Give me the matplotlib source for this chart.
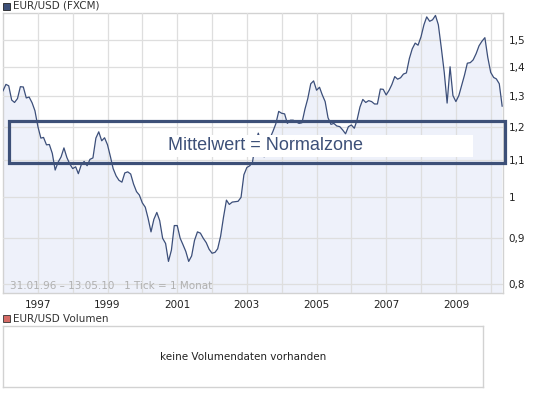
import matplotlib
matplotlib.use("Agg")
import matplotlib.pyplot as plt
import matplotlib.patches as mpatches
import matplotlib.dates as mdates
import pandas as pd
import numpy as np

# ---- data: EUR/USD monthly, Jan 1996 .. May 2010 ----
start_month = "1996-01-01"
eurusd = [
    1.316, 1.338, 1.333, 1.285, 1.277, 1.290, 1.330, 1.329, 1.292, 1.295, 1.276, 1.250,  # 1996
    1.200, 1.165, 1.167, 1.145, 1.146, 1.120, 1.073, 1.095, 1.110, 1.136, 1.108, 1.090,  # 1997
    1.077, 1.082, 1.063, 1.088, 1.097, 1.085, 1.103, 1.107, 1.165, 1.184, 1.157, 1.166,  # 1998
    1.145, 1.110, 1.077, 1.057, 1.045, 1.040, 1.065, 1.068, 1.062, 1.035, 1.015, 1.006,  # 1999
    0.986, 0.975, 0.948, 0.915, 0.945, 0.962, 0.942, 0.900, 0.888, 0.848, 0.873, 0.930,  # 2000
    0.930, 0.900, 0.886, 0.870, 0.848, 0.860, 0.895, 0.915, 0.912, 0.900, 0.890, 0.875,  # 2001
    0.866, 0.868, 0.876, 0.905, 0.950, 0.993, 0.982, 0.988, 0.989, 0.990, 1.000, 1.060,  # 2002
    1.080, 1.085, 1.095, 1.150, 1.180, 1.150, 1.110, 1.120, 1.165, 1.185, 1.209, 1.248,  # 2003
    1.242, 1.240, 1.210, 1.220, 1.220, 1.215, 1.210, 1.212, 1.255, 1.290, 1.340, 1.350,  # 2004
    1.318, 1.328, 1.303, 1.280, 1.228, 1.207, 1.210, 1.202, 1.200, 1.190, 1.178, 1.200,  # 2005
    1.205, 1.195, 1.220, 1.262, 1.287, 1.277, 1.283, 1.280, 1.272, 1.272, 1.322, 1.321,  # 2006
    1.302, 1.318, 1.337, 1.365, 1.356, 1.361, 1.374, 1.378, 1.430, 1.466, 1.488, 1.480,  # 2007
    1.512, 1.560, 1.592, 1.574, 1.580, 1.598, 1.560, 1.470, 1.380, 1.275, 1.400, 1.300,  # 2008
    1.280, 1.300, 1.333, 1.370, 1.413, 1.415, 1.425, 1.448, 1.478, 1.495, 1.509, 1.435,  # 2009
    1.380, 1.362, 1.357, 1.340, 1.265,                                                    # 2010
]
dates = pd.date_range(start_month, periods=len(eurusd), freq="MS")

y_ticks = [0.8, 0.9, 1.0, 1.1, 1.2, 1.3, 1.4, 1.5]
y_tick_labels = ["0,8", "0,9", "1", "1,1", "1,2", "1,3", "1,4", "1,5"]
grid_years = list(range(1997, 2011))
label_years = [1997, 1999, 2001, 2003, 2005, 2007, 2009]

title_main = "EUR/USD (FXCM)"
title_vol = "EUR/USD Volumen"
range_note = "31.01.96 \u2013 13.05.10   1 Tick = 1 Monat"
no_volume = "keine Volumendaten vorhanden"
overlay_text = "Mittelwert = Normalzone"

# ---- styling ----
W, H = 545, 395
LINE = "#3c4f7a"
FILL = "#eef1fa"
GRID = "#dedede"
SPINE = "#d2d2d2"
BOX = "#3d5078"

plt.rcParams["font.family"] = ["DejaVu Sans"]

fig = plt.figure(figsize=(W / 100, H / 100), dpi=100)

def fx(px):
    return px / W

def fy(py):
    return 1 - py / H

# main axes
ax = fig.add_axes([fx(3), fy(293), fx(500), 280 / H])
ax.set_yscale("log")
ax.fill_between(dates, eurusd, 0.5, color=FILL, lw=0, zorder=1)
ax.plot(dates, eurusd, color=LINE, lw=0.9, zorder=3)
ax.set_ylim(0.7817, 1.608)
ax.set_xlim(pd.Timestamp("1996-01-01"), pd.Timestamp("2010-05-10"))

ax.yaxis.tick_right()
ax.set_yticks(y_ticks)
ax.set_yticklabels(y_tick_labels)
ax.yaxis.set_minor_locator(matplotlib.ticker.NullLocator())
ax.yaxis.set_minor_formatter(matplotlib.ticker.NullFormatter())

xt = [pd.Timestamp(f"{y}-01-01") for y in grid_years]
ax.set_xticks(xt)
ax.set_xticklabels([str(y) if y in label_years else "" for y in grid_years])
ax.tick_params(axis="both", length=0, labelsize=7.5, colors="#222222")
ax.tick_params(axis="x", pad=5)
ax.tick_params(axis="y", pad=4)
ax.grid(True, color=GRID, lw=0.9, zorder=2)
ax.set_axisbelow(False)
for s in ax.spines.values():
    s.set_color(SPINE)
    s.set_linewidth(1.0)
ax.text(7 / 500, 7 / 280, range_note, transform=ax.transAxes,
        fontsize=7.5, color="#b0b0b0", va="center", ha="left", zorder=4)

# volume axes
axv = fig.add_axes([fx(3), fy(387), fx(480), 61 / H])
axv.set_xticks([])
axv.set_yticks([])
for s in axv.spines.values():
    s.set_color(SPINE)
    s.set_linewidth(1.0)
axv.text(0.5, 0.5, no_volume, transform=axv.transAxes, ha="center", va="center",
         fontsize=7.5, color="#222222")

# legend squares and titles
fig.patches.append(mpatches.Rectangle((fx(3), fy(10)), fx(7), 7 / H, transform=fig.transFigure,
                                      facecolor="#3d5078", edgecolor="#222222", lw=0.6))
fig.text(fx(13), fy(6), title_main, fontsize=7.5, color="#333333", va="center", ha="left")
fig.patches.append(mpatches.Rectangle((fx(3), fy(322)), fx(7), 7 / H, transform=fig.transFigure,
                                      facecolor="#d66b66", edgecolor="#333333", lw=0.6))
fig.text(fx(13), fy(319), title_vol, fontsize=7.5, color="#333333", va="center", ha="left")

# overlay: normal zone box
fig.patches.append(mpatches.Rectangle((fx(9), fy(163)), fx(495.5), 42 / H, transform=fig.transFigure,
                                      fill=False, edgecolor=BOX, lw=2.3, zorder=5))
fig.patches.append(mpatches.Rectangle((fx(160), fy(157)), fx(313), 22 / H, transform=fig.transFigure,
                                      facecolor="white", edgecolor="none", zorder=6))
fig.text(fx(168), fy(146), overlay_text, fontsize=13, color=BOX, va="center", ha="left",
         family=["Liberation Sans"], zorder=7)

fig.savefig("out.png", dpi=100)
